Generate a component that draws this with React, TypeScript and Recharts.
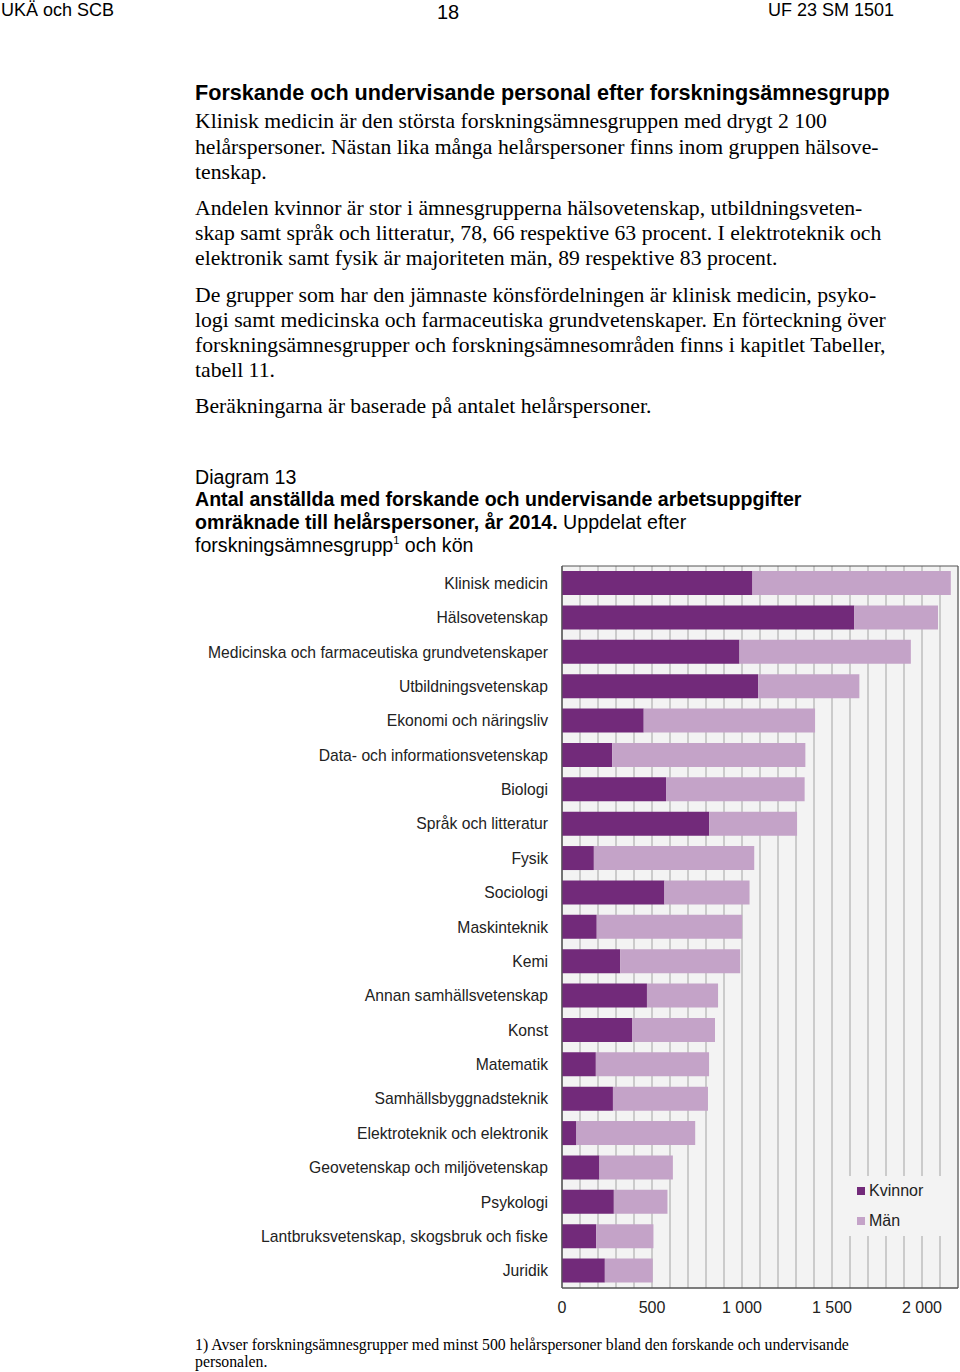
import { Bar, BarChart, CartesianGrid, ReferenceArea, XAxis, YAxis } from 'recharts'

const categories = [
  'Klinisk medicin',
  'Hälsovetenskap',
  'Medicinska och farmaceutiska grundvetenskaper',
  'Utbildningsvetenskap',
  'Ekonomi och näringsliv',
  'Data- och informationsvetenskap',
  'Biologi',
  'Språk och litteratur',
  'Fysik',
  'Sociologi',
  'Maskinteknik',
  'Kemi',
  'Annan samhällsvetenskap',
  'Konst',
  'Matematik',
  'Samhällsbyggnadsteknik',
  'Elektroteknik och elektronik',
  'Geovetenskap och miljövetenskap',
  'Psykologi',
  'Lantbruksvetenskap, skogsbruk och fiske',
  'Juridik',
]
const kvinnor = [1058, 1624, 986, 1090, 454, 279, 578, 818, 177, 569, 193, 323, 472, 389, 188, 283, 80, 208, 288, 190, 238]
const man = [1102, 465, 952, 562, 952, 1073, 770, 488, 891, 473, 808, 667, 395, 461, 629, 528, 660, 408, 298, 318, 266]
const xTicks = [0, 100, 200, 300, 400, 500, 600, 700, 800, 900, 1000, 1100, 1200, 1300, 1400, 1500, 1600, 1700, 1800, 1900, 2000, 2100, 2200]
const seriesNames = ['Kvinnor', 'Män']

const data = categories.map((name, i) => ({ name, Kvinnor: kvinnor[i], Män: man[i] }))

const C_KV = '#722a7a'
const C_MAN = '#c4a3c8'
const SANS = '"Liberation Sans", Arial, sans-serif'
const SERIF = '"Liberation Serif", "Times New Roman", serif'

const fmt = (v: number) => (v % 500 !== 0 || v > 2000 ? '' : v >= 1000 ? `${Math.floor(v / 1000)} ${String(v % 1000).padStart(3, '0')}` : String(v))

function Line({ y, x = 195, size, font, bold, children }: { y: number; x?: number; size: number; font: string; bold?: boolean; children: React.ReactNode }) {
  return (
    <div
      style={{
        position: 'absolute',
        left: x,
        top: y - size * 0.6,
        fontSize: size,
        lineHeight: `${size * 1.2}px`,
        fontFamily: font,
        fontWeight: bold ? 700 : 400,
        whiteSpace: 'nowrap',
        color: '#000',
      }}
    >
      {children}
    </div>
  )
}

export default function App() {
  const bodyLines: Array<[number, string]> = [
    [121, 'Klinisk medicin är den största forskningsämnesgruppen med drygt 2 100'],
    [147, 'helårspersoner. Nästan lika många helårspersoner finns inom gruppen hälsove-'],
    [172, 'tenskap.'],
    [208, 'Andelen kvinnor är stor i ämnesgrupperna hälsovetenskap, utbildningsveten-'],
    [233, 'skap samt språk och litteratur, 78, 66 respektive 63 procent. I elektroteknik och'],
    [258, 'elektronik samt fysik är majoriteten män, 89 respektive 83 procent.'],
    [295, 'De grupper som har den jämnaste könsfördelningen är klinisk medicin, psyko-'],
    [320, 'logi samt medicinska och farmaceutiska grundvetenskaper. En förteckning över'],
    [345, 'forskningsämnesgrupper och forskningsämnesområden finns i kapitlet Tabeller,'],
    [370, 'tabell 11.'],
    [406, 'Beräkningarna är baserade på antalet helårspersoner.'],
  ]

  return (
    <div style={{ position: 'absolute', left: 0, top: 0, width: 960, height: 1372, background: '#fff', overflow: 'hidden' }}>
      <Line x={1} y={11} size={18} font={SANS}>UKÄ och SCB</Line>
      <Line x={437} y={12} size={20} font={SANS}>18</Line>
      <Line x={768} y={11} size={18} font={SANS}>UF 23 SM 1501</Line>

      <Line y={93} size={21.6} font={SANS} bold>Forskande och undervisande personal efter forskningsämnesgrupp</Line>
      {bodyLines.map(([y, t]) => (
        <Line key={y} y={y} size={21.7} font={SERIF}>{t}</Line>
      ))}

      <Line y={478} size={19.6} font={SANS}>Diagram 13</Line>
      <Line y={500} size={19.6} font={SANS} bold>Antal anställda med forskande och undervisande arbetsuppgifter</Line>
      <Line y={523} size={19.6} font={SANS}>
        <b>omräknade till helårspersoner, år 2014.</b> Uppdelat efter
      </Line>
      <Line y={546} size={19.6} font={SANS}>
        forskningsämnesgrupp<span style={{ fontSize: 11, position: 'relative', top: -8 }}>1</span> och kön
      </Line>

      <div style={{ position: 'absolute', left: 0, top: 560 }}>
        <BarChart
          width={960}
          height={770}
          data={data}
          layout="vertical"
          margin={{ top: 6, right: 2, bottom: 12, left: 0 }}
          barSize={24}
        >
          <CartesianGrid horizontal={false} stroke="#a3a3a3" fill="#f3f3f3" />
          <XAxis
            type="number"
            domain={[0, 2200]}
            ticks={xTicks}
            interval={0}
            tickFormatter={fmt}
            tick={{ fill: '#222', fontSize: 16, fontFamily: SANS }}
            axisLine={{ stroke: '#555' }}
            tickLine={false}
            tickMargin={8}
            height={30}
          />
          <YAxis
            type="category"
            dataKey="name"
            width={562}
            interval={0}
            tick={{ fill: '#222', fontSize: 15.7, fontFamily: SANS }}
            axisLine={{ stroke: '#555' }}
            tickLine={false}
            tickSize={0}
            tickMargin={14}
          />
          <Bar dataKey="Kvinnor" stackId="a" fill={C_KV} isAnimationActive={false} />
          <Bar dataKey="Män" stackId="a" fill={C_MAN} isAnimationActive={false} />
          <ReferenceArea x1={0} x2={2200} stroke="#555" strokeOpacity={1} fill="none" />
        </BarChart>
      </div>

      <div
        style={{
          position: 'absolute',
          left: 847,
          top: 1176,
          width: 109,
          height: 60,
          background: '#f3f3f3',
          fontFamily: SANS,
          fontSize: 16,
          color: '#222',
          paddingLeft: 10,
          boxSizing: 'border-box',
        }}
      >
        {seriesNames.map((n, i) => (
          <div key={n} style={{ display: 'flex', alignItems: 'center', height: 30 }}>
            <span style={{ width: 8, height: 8, background: i === 0 ? C_KV : C_MAN, marginRight: 4, display: 'inline-block' }} />
            {n}
          </div>
        ))}
      </div>

      <Line y={1345} size={15.8} font={SERIF}>1) Avser forskningsämnesgrupper med minst 500 helårspersoner bland den forskande och undervisande</Line>
      <Line y={1362} size={15.8} font={SERIF}>personalen.</Line>
    </div>
  )
}
